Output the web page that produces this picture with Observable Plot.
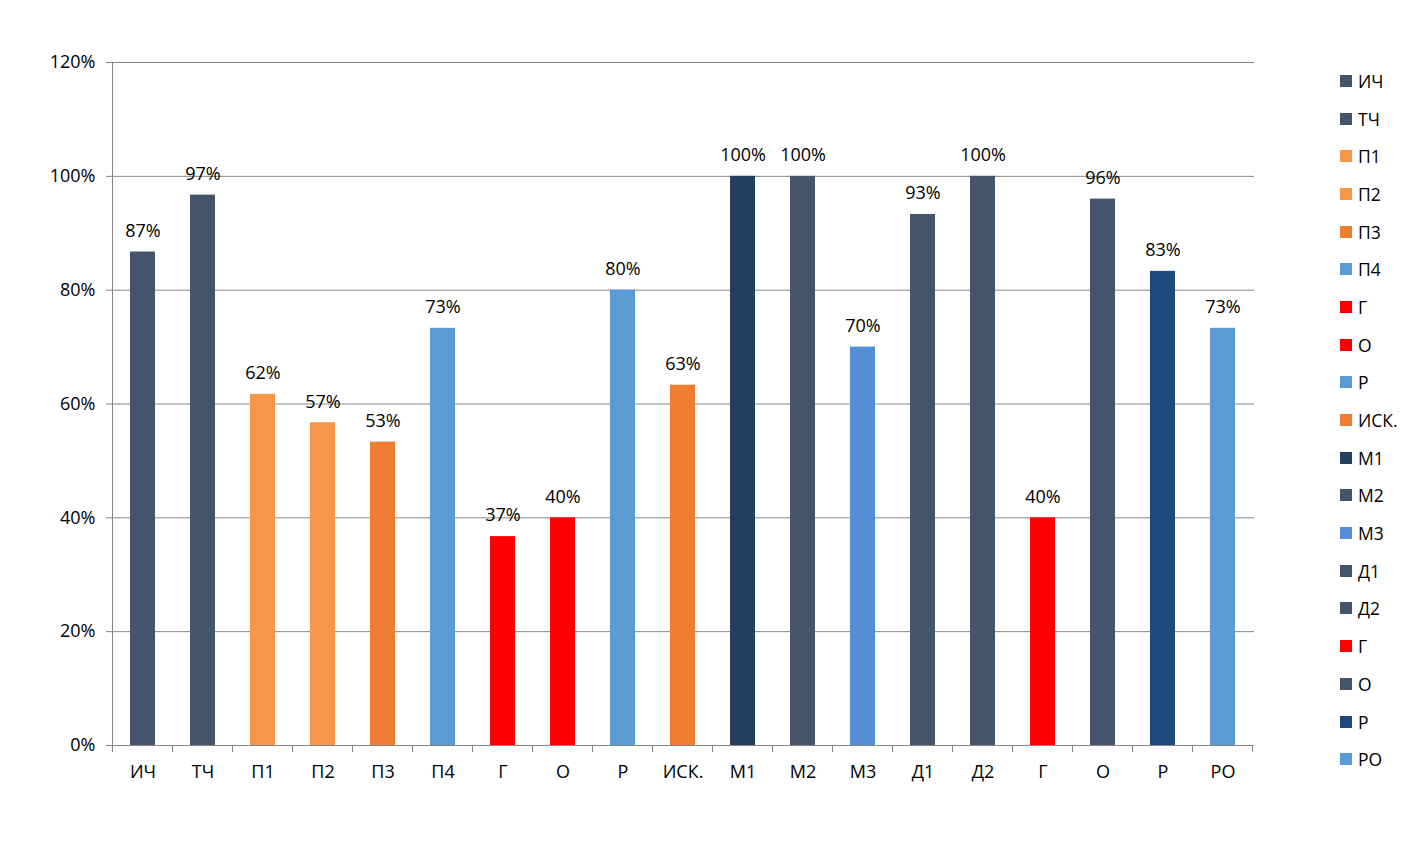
<!DOCTYPE html>
<html><head><meta charset="utf-8">
<script src="https://cdn.jsdelivr.net/npm/d3@7"></script>
<script src="https://cdn.jsdelivr.net/npm/@observablehq/plot@0.6"></script>
<style>
body{margin:0;background:#fff;font-family:"Open Sans",sans-serif;}
#wrap{position:relative;width:1420px;height:841px;}
#legend{position:absolute;left:1340px;top:62px;font-size:17.5px;color:#000;}
.li{height:37.7px;display:flex;align-items:center;}
.sw{width:12px;height:12px;margin-right:6px;}
</style></head>
<body><div id="wrap"><div id="chart"></div><div id="legend"></div></div>
<script>
const categories = ["ИЧ","ТЧ","П1","П2","П3","П4","Г","О","Р","ИСК.","М1","М2","М3","Д1","Д2","Г","О","Р","РО"];
const values = [0.867,0.967,0.617,0.567,0.533,0.733,0.367,0.40,0.80,0.633,1.0,1.0,0.70,0.933,1.0,0.40,0.96,0.833,0.733];
const colors = ["#44546A","#44546A","#F79646","#F79646","#ED7D31","#5B9BD5","#FF0000","#FF0000","#5B9BD5","#ED7D31","#243F60","#44546A","#558ED5","#44546A","#44546A","#FF0000","#44546A","#1F497D","#5B9BD5"];
const yTicks = [0,0.2,0.4,0.6,0.8,1.0,1.2];

const data = categories.map((c,i)=>({i, c, v: values[i], col: colors[i]}));
const fmt = v => Math.round(v*100) + "%";

const plot = Plot.plot({
  width: 1420, height: 841,
  marginLeft: 112, marginRight: 166, marginTop: 62, marginBottom: 96,
  style: {fontFamily: '"Open Sans", sans-serif', fontSize: "18px", color: "#000", background: "#fff"},
  x: {domain: data.map(d=>d.i), paddingInner: 0.58, paddingOuter: 0.29, align: 0.5, label: null, tickFormat: i => categories[i], tickSize: 0, tickPadding: 20},
  y: {domain: [0,1.2], ticks: yTicks, tickFormat: d => Math.round(d*100)+"%", label: null, tickSize: 6, tickPadding: 11},
  marks: [
    Plot.ruleY(yTicks.filter(t=>t>0), {stroke: "#868686", strokeWidth: 1}),
    Plot.barY(data, {x: "i", y: "v", fill: "col"}),
    Plot.ruleY([0], {stroke: "#868686", strokeWidth: 1}),
    Plot.text(data, {x: "i", y: "v", text: d => fmt(d.v), dy: -21, fill: "#000"})
  ]
});
document.getElementById("chart").appendChild(plot);

// axis lines and category boundary ticks derived from library scales
const xs = plot.scale("x"), ys = plot.scale("y");
const svg = d3.select(plot);
const y0 = ys.apply(0), yTop = ys.apply(1.2);
const step = xs.step;
const first = xs.apply(0) - (step - xs.bandwidth)/2;
svg.selectAll("g[aria-label='y-axis tick']").attr("stroke","#868686");
const g = svg.append("g").attr("stroke","#868686").attr("stroke-width",1);
g.append("line").attr("x1",first).attr("x2",first).attr("y1",yTop).attr("y2",y0+0.5);
for (let k = 0; k <= data.length; k++) {
  const x = first + step*k;
  g.append("line").attr("x1",x).attr("x2",x).attr("y1",y0).attr("y2",y0+7);
}

const lg = document.getElementById("legend");
data.forEach(d=>{
  const row = document.createElement("div"); row.className="li";
  const sw = document.createElement("div"); sw.className="sw"; sw.style.background=d.col;
  const t = document.createElement("span"); t.textContent=d.c;
  row.appendChild(sw); row.appendChild(t); lg.appendChild(row);
});
</script></body></html>
